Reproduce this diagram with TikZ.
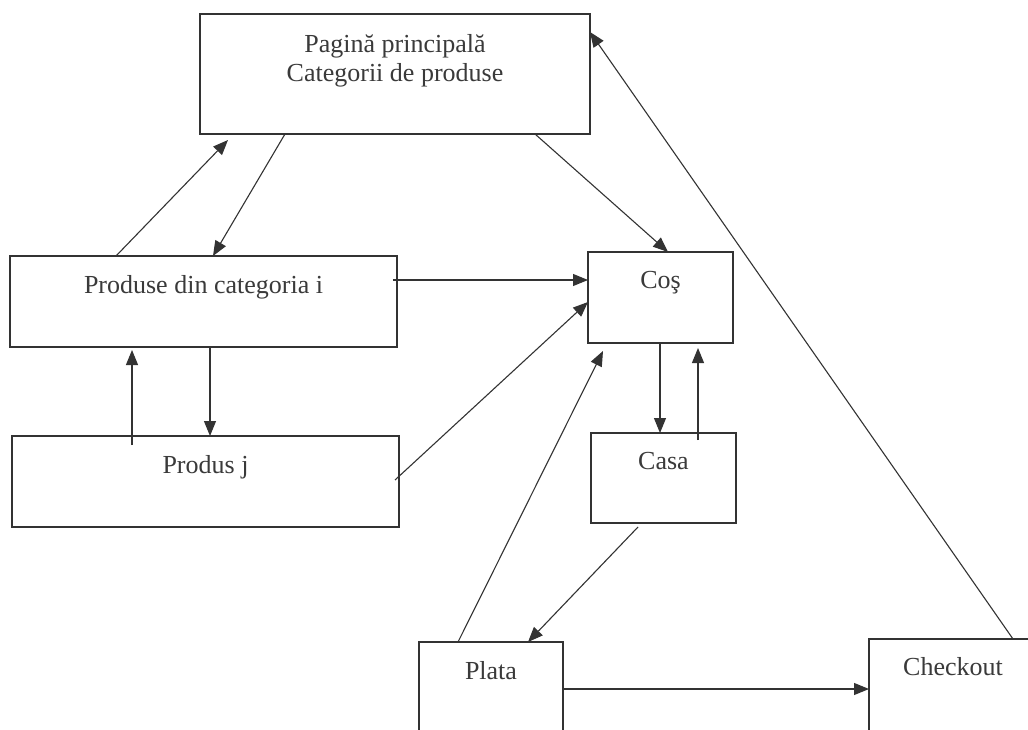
\documentclass[tikz,border=0pt]{standalone}
\usepackage{fontspec}
\setmainfont{Liberation Serif}
\usetikzlibrary{arrows.meta}
\definecolor{ink}{HTML}{333333}
\definecolor{txt}{HTML}{3A3A3A}
\begin{document}
\begin{tikzpicture}[x=1pt,y=-1pt,
  pagebox/.style={draw=ink,line width=1.2pt,rectangle,inner sep=0pt,outer sep=0pt},
  caption/.style={anchor=north,inner sep=0pt,yshift=-19pt,text=txt,align=center,
    font=\fontsize{26}{29}\selectfont},
  link/.style={draw=ink,line width=1.1pt,-{Triangle[length=15pt,width=12pt]}},
  plain/.style={draw=ink,line width=1.1pt}]
\useasboundingbox (0,0) rectangle (1028,730);
\clip (0,0) rectangle (1028,730);
\fill[white] (0,0) rectangle (1028,730);

% pages of the shop
\node[pagebox,minimum width=390pt,minimum height=120pt,
  label={[caption,yshift=-1pt]north:{Pagină principală\\Categorii de produse}}] (main) at (395,74) {};
\node[pagebox,minimum width=387pt,minimum height=91pt,
  label={[caption]north:Produse din categoria i}] (cat) at (203.5,301.5) {};
\node[pagebox,minimum width=145pt,minimum height=91pt,
  label={[caption]north:Coş}] (cos) at (660.5,297.5) {};
\node[pagebox,minimum width=387pt,minimum height=91pt,
  label={[caption]north:Produs j}] (prod) at (205.5,481.5) {};
\node[pagebox,minimum width=145pt,minimum height=90pt,
  label={[caption]north:Casa}] (casa) at (663.5,478) {};
\node[pagebox,minimum width=144pt,minimum height=108pt,
  label={[caption]north:Plata}] (plata) at (491,696) {};
\node[pagebox,minimum width=168pt,minimum height=111pt,
  label={[caption,yshift=1pt]north:Checkout}] (chk) at (953,694.5) {};

% navigation between pages
\draw[link] ([xshift=-87.5pt]cat.north) -- ([xshift=-167pt,yshift=-6pt]main.south);
\draw[link] ([xshift=-110pt]main.south) -- ([xshift=9.5pt]cat.north);
\draw[link] ([xshift=140pt]main.south) -- ([xshift=7.5pt]cos.north);
\draw[link] ([xshift=-4pt,yshift=21.5pt]cat.east) -- ([yshift=17.5pt]cos.west);
\draw[link] ([xshift=-4pt,yshift=1.5pt]prod.east) -- ([yshift=-4.5pt]cos.west);
\draw[link] ([xshift=-33pt]plata.north) -- ([xshift=-57.5pt,yshift=-8pt]cos.south);
\draw[link] ([xshift=-0.5pt]cos.south) -- ([xshift=-3.5pt]casa.north);
\draw[link] ([xshift=34.5pt,yshift=-7pt]casa.north) -- ([xshift=37.5pt,yshift=-5pt]cos.south);
\draw[link] ([xshift=-25.5pt,yshift=-4pt]casa.south) -- ([xshift=37pt]plata.north);
\draw[link] ([xshift=6.5pt]cat.south) -- ([xshift=4.5pt]prod.north);
\draw[link] ([xshift=-73.5pt,yshift=-9pt]prod.north) -- ([xshift=-71.5pt,yshift=-3pt]cat.south);
\draw[link] ([yshift=7pt]plata.east) -- ([yshift=5.5pt]chk.west);
\draw[link] ([xshift=60pt]chk.north) -- ([yshift=42pt]main.east);
\end{tikzpicture}
\end{document}
